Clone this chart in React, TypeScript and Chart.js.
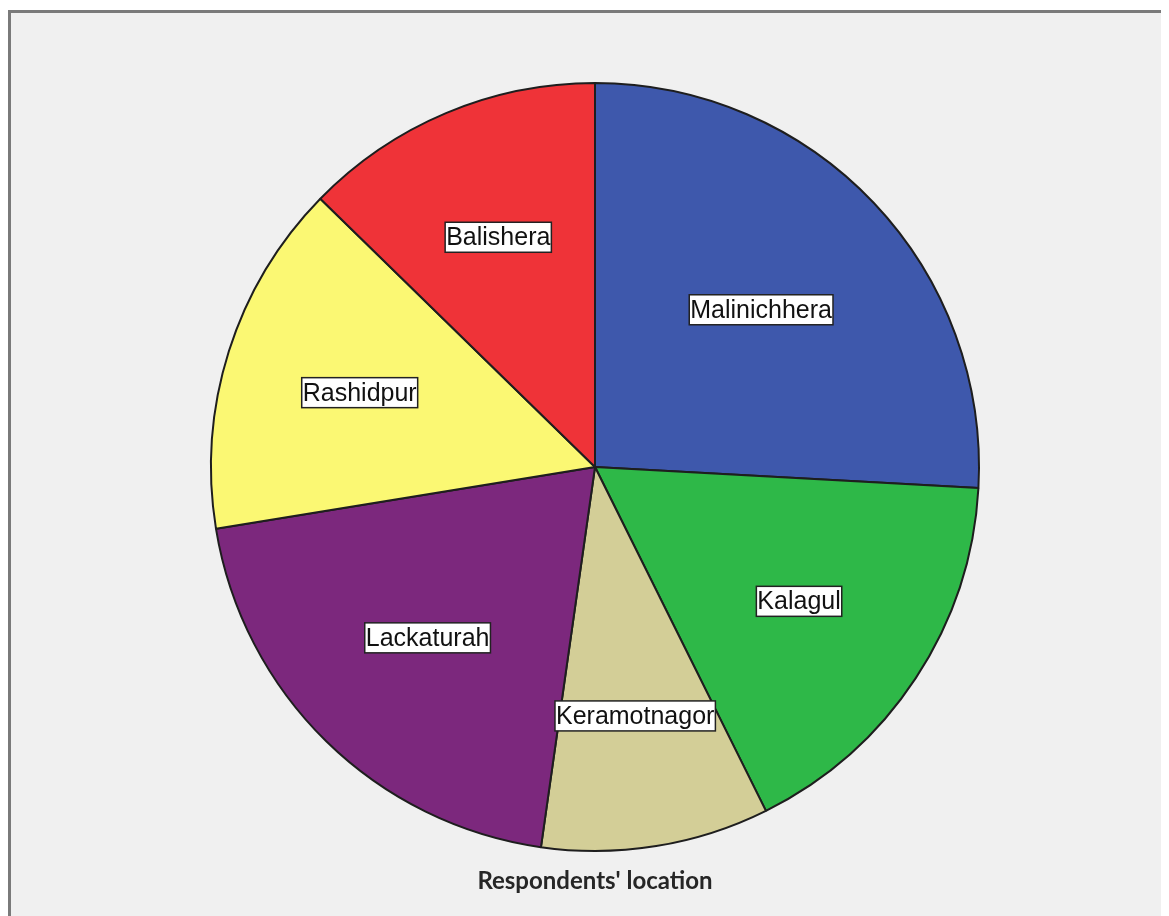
import React, { useEffect, useRef } from "react";
import { Chart, registerables } from "chart.js";

Chart.register(...registerables);

const categories = ["Malinichhera", "Kalagul", "Keramotnagor", "Lackaturah", "Rashidpur", "Balishera"];
const percentages = [25.9, 16.8, 9.6, 20.2, 14.9, 12.7];
const sliceColors = ["#3E58AC", "#2EB848", "#D3CE97", "#7C287D", "#FBF873", "#EF3338"];
const chartTitle = "Respondents' location";

const framePlugin = {
  id: "frame",
  beforeDraw(chart: any) {
    const { ctx, width, height } = chart;
    ctx.save();
    ctx.fillStyle = "#ffffff";
    ctx.fillRect(0, 0, width, height);
    ctx.fillStyle = "#f0f0f0";
    ctx.fillRect(0, 2, width, height - 2);
    ctx.strokeStyle = "#7a7a7a";
    ctx.lineWidth = 3;
    ctx.beginPath();
    ctx.moveTo(1.5, height);
    ctx.lineTo(1.5, 3.5);
    ctx.lineTo(width, 3.5);
    ctx.stroke();
    ctx.restore();
  },
};

const labelPlugin = {
  id: "sliceLabels",
  afterDatasetsDraw(chart: any) {
    const { ctx } = chart;
    const meta = chart.getDatasetMeta(0);
    ctx.save();
    ctx.font = "25px 'Liberation Sans', Arial, sans-serif";
    ctx.textAlign = "center";
    ctx.textBaseline = "middle";
    meta.data.forEach((arc: any, i: number) => {
      const { x, y, startAngle, endAngle, outerRadius } = arc.getProps(
        ["x", "y", "startAngle", "endAngle", "outerRadius"],
        true
      );
      const theta = endAngle - startAngle;
      const mid = (startAngle + endAngle) / 2;
      const d = (4 * outerRadius * Math.sin(theta / 2)) / (3 * theta);
      const cx = x + Math.cos(mid) * d;
      const cy = y + Math.sin(mid) * d;
      const text = categories[i];
      const w = ctx.measureText(text).width + 2;
      const h = 30;
      ctx.fillStyle = "#ffffff";
      ctx.fillRect(cx - w / 2, cy - h / 2, w, h);
      ctx.strokeStyle = "#222222";
      ctx.lineWidth = 1.5;
      ctx.strokeRect(cx - w / 2, cy - h / 2, w, h);
      ctx.fillStyle = "#111111";
      ctx.fillText(text, cx, cy + 1);
    });
    ctx.restore();
  },
  afterDraw(chart: any) {
    const { ctx } = chart;
    const meta = chart.getDatasetMeta(0);
    const arc = meta.data[0];
    ctx.save();
    ctx.font = "bold 24px Lato, 'Open Sans', sans-serif";
    ctx.textAlign = "center";
    ctx.textBaseline = "middle";
    ctx.fillStyle = "#262626";
    ctx.fillText(chartTitle, arc.x, arc.y + arc.outerRadius + 30);
    ctx.restore();
  },
};

export default function App() {
  const canvasRef = useRef<HTMLCanvasElement | null>(null);

  useEffect(() => {
    if (!canvasRef.current) return;
    const chart = new Chart(canvasRef.current, {
      type: "pie",
      data: {
        labels: categories,
        datasets: [
          {
            data: percentages,
            backgroundColor: sliceColors,
            borderColor: "#1e1e1e",
            borderWidth: 2,
          },
        ],
      },
      options: {
        responsive: false,
        animation: false,
        layout: { padding: { left: 202, right: 189, top: 74, bottom: 64 } },
        plugins: {
          legend: { display: false },
          tooltip: { enabled: false },
          title: { display: false },
        },
      },
      plugins: [framePlugin, labelPlugin],
    });
    return () => chart.destroy();
  }, []);

  return (
    <div style={{ width: 1161, height: 908 }}>
      <canvas ref={canvasRef} width={1161} height={908} style={{ display: "block" }} />
    </div>
  );
}
